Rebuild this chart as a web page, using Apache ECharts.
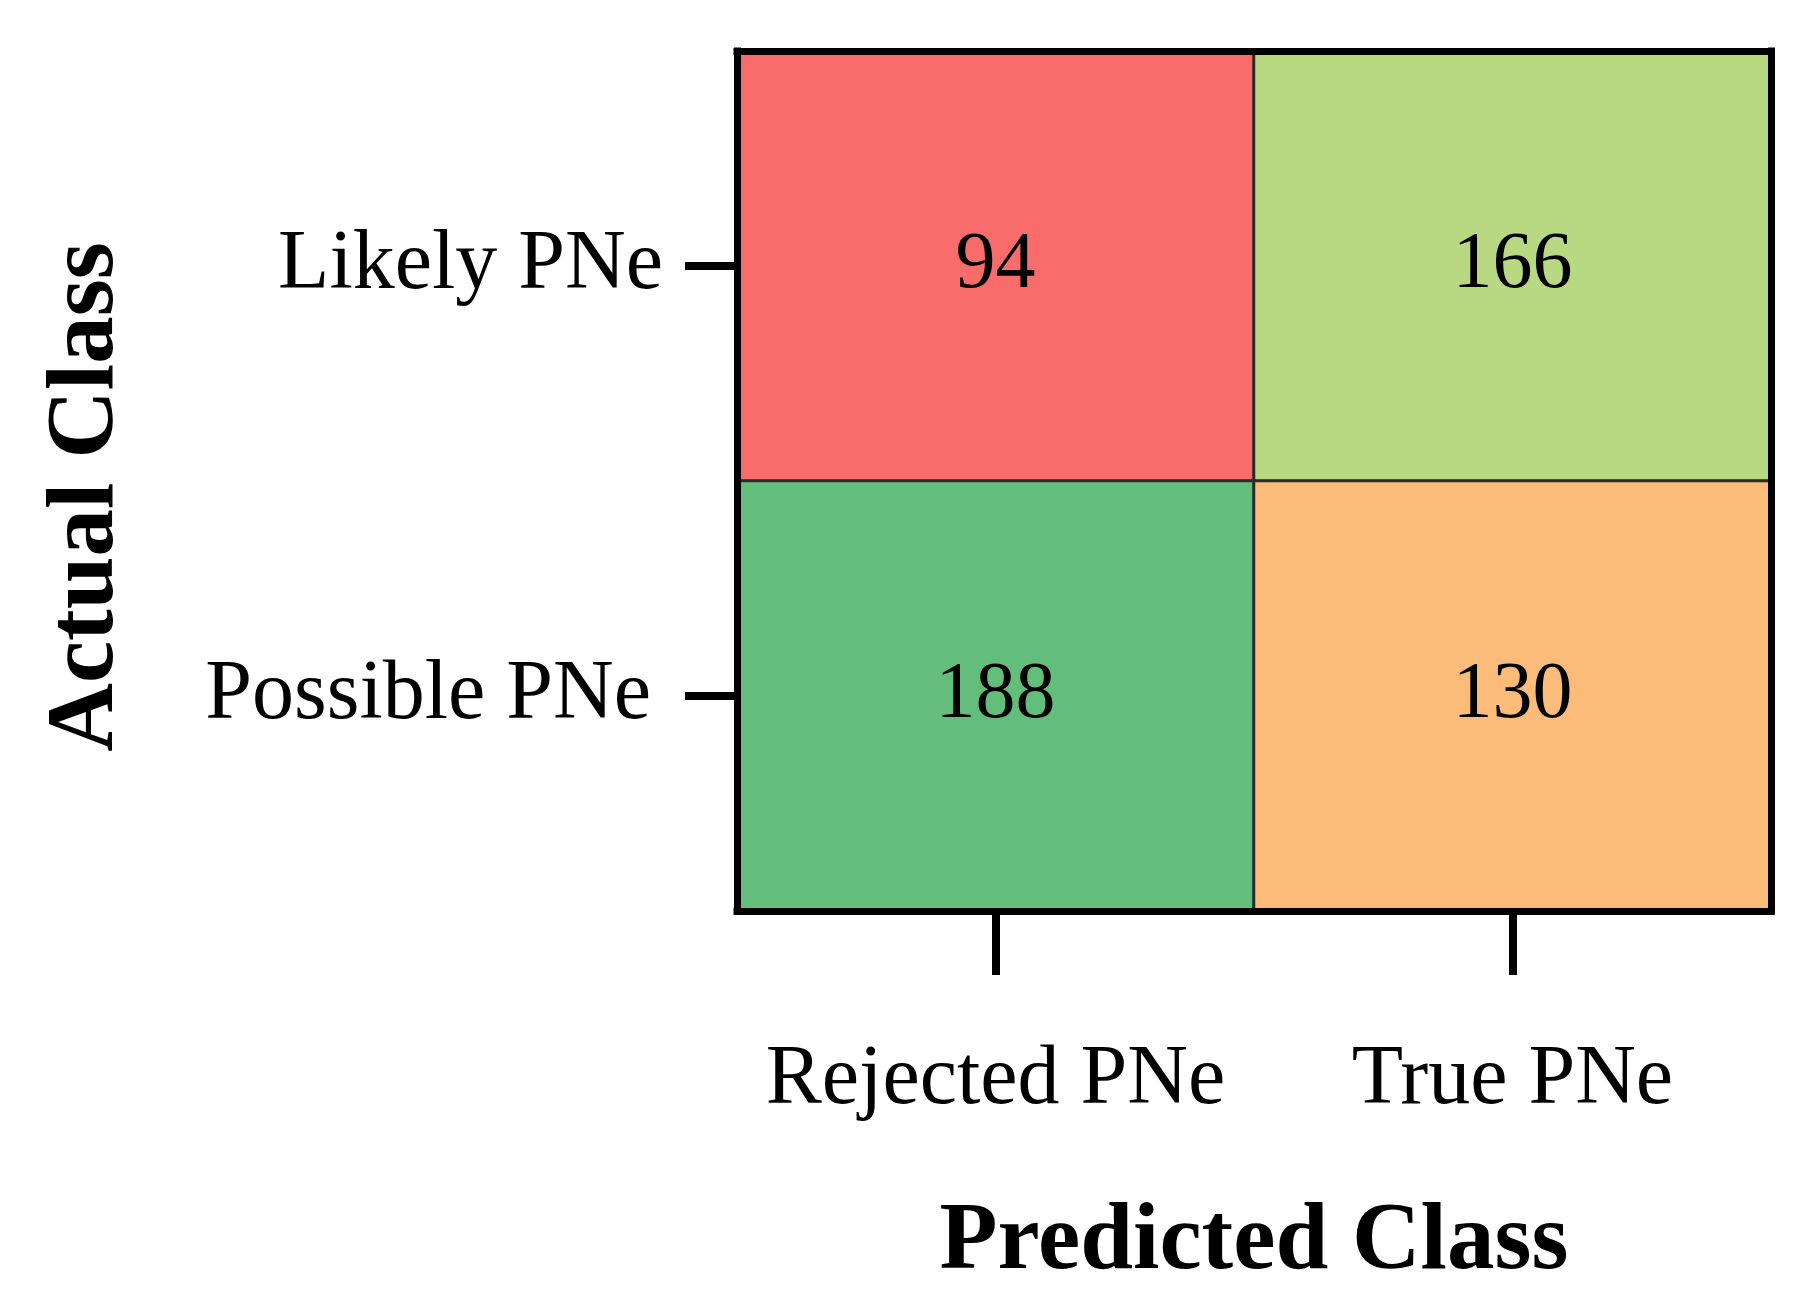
<!DOCTYPE html>
<html>
<head>
<meta charset="utf-8">
<script src="https://cdn.jsdelivr.net/npm/echarts@6/dist/echarts.min.js"></script>
<style>
  html, body { margin: 0; padding: 0; background: #fff; }
  #confusion { width: 1817px; height: 1315px; }
</style>
</head>
<body>
<div id="confusion"></div>
<script>
// predicted classes (columns) and actual classes (rows, bottom to top)
const predictedClasses = ['Rejected PNe', 'True PNe']
const actualClasses = ['Possible PNe', 'Likely PNe']

// counts: [predicted index, actual index, count]
const cellCounts = [
  [0, 1, 94],
  [1, 1, 166],
  [0, 0, 188],
  [1, 0, 130],
]

// one colour per count value
const countValues = [94, 130, 166, 188]
const countColors = ['#F86C6C', '#FBBC79', '#B9D882', '#63BE7B']

const FONT = '"Liberation Serif", "Times New Roman", serif'

const chart = echarts.init(document.getElementById('confusion'))

const frameLine = { show: true, lineStyle: { color: '#000', width: 7, cap: 'square' } }

const option = {
  animation: false,
  textStyle: { fontFamily: FONT },
  grid: { left: 737, right: 46, top: 51, bottom: 404 },
  visualMap: {
    type: 'piecewise',
    show: false,
    dimension: 2,
    pieces: countValues.map((v, i) => ({ value: v, color: countColors[i] })),
  },
  xAxis: [
    {
      type: 'category',
      data: predictedClasses,
      position: 'bottom',
      z: 10,
      axisLine: frameLine,
      axisTick: { show: true, interval: 0, alignWithLabel: true, length: 64, lineStyle: { color: '#000', width: 8 } },
      axisLabel: { interval: 0, color: '#000', fontSize: 84, fontFamily: FONT, margin: 128 },
      splitLine: { show: false },
      name: 'Predicted Class',
      nameLocation: 'middle',
      nameGap: 285,
      nameTextStyle: { color: '#000', fontSize: 95, fontWeight: 'bold', fontFamily: FONT },
    },
    {
      type: 'category',
      data: predictedClasses,
      position: 'top',
      z: 10,
      axisLine: frameLine,
      axisTick: { show: false },
      axisLabel: { show: false },
    },
  ],
  yAxis: [
    {
      type: 'category',
      data: actualClasses,
      position: 'left',
      z: 10,
      axisLine: frameLine,
      axisTick: { show: true, interval: 0, alignWithLabel: true, length: 52, lineStyle: { color: '#000', width: 8 } },
      axisLabel: {
        interval: 0,
        color: '#000',
        fontSize: 84,
        fontFamily: FONT,
        margin: 74,
        // the lower label sits a little further from its tick in the original
        formatter: (v, i) => (i === 0 ? '{p|' + v + '}' : v),
        rich: { p: { fontSize: 84, fontFamily: FONT, color: '#000', padding: [0, 12, 0, 0] } },
      },
      splitLine: { show: false },
      name: 'Actual Class',
      nameLocation: 'middle',
      nameGap: 602,
      nameTextStyle: { color: '#000', fontSize: 95, fontWeight: 'bold', fontFamily: FONT, padding: [0, 32, 0, 0] },
    },
    {
      type: 'category',
      data: actualClasses,
      position: 'right',
      z: 10,
      axisLine: frameLine,
      axisTick: { show: false },
      axisLabel: { show: false },
    },
  ],
  series: [
    {
      type: 'heatmap',
      data: cellCounts,
      itemStyle: { borderColor: '#2b2b2b', borderWidth: 3 },
      label: { show: true, color: '#000', fontSize: 80, fontFamily: FONT },
      emphasis: { disabled: true },
    },
  ],
}

chart.setOption(option)
</script>
</body>
</html>
